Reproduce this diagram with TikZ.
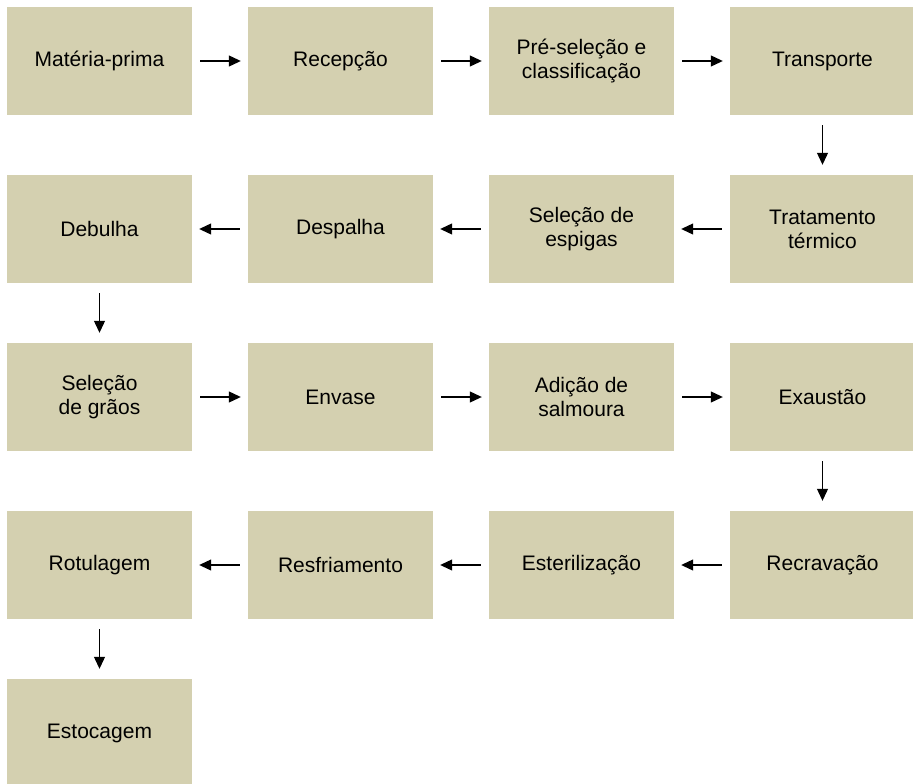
\documentclass[tikz,border=0pt]{standalone}
\usepackage{fontspec}
\setmainfont{Liberation Sans}
\usetikzlibrary{arrows.meta}
\definecolor{boxfill}{HTML}{D4D0B0}
\begin{document}
\begin{tikzpicture}[x=1pt,y=-1pt,
  stepbox/.style={fill=boxfill,draw=none,minimum width=185pt,minimum height=108pt,inner sep=0pt,align=center,font=\fontsize{21}{24}\selectfont},
  flow/.style={-{Triangle[length=12pt,width=11pt]},line width=1.1pt},
  hflow/.style={flow,shorten <=8pt,shorten >=7pt},
  vflow/.style={flow,shorten <=10pt,shorten >=10pt}]
\useasboundingbox (0,0) rectangle (913,784);
\clip (0,0) rectangle (913,784);
\node[stepbox] (a1) at (99.5,61) {Matéria-prima};
\node[stepbox] (a2) at (340.5,61) {Recepção};
\node[stepbox] (a3) at (581.5,61) {Pré-seleção e\\classificação};
\node[stepbox] (a4) at (822.5,61) {Transporte};
\node[stepbox] (b4) at (822.5,229) {Tratamento\\térmico};
\node[stepbox] (b3) at (581.5,229) {Seleção de\\espigas};
\node[stepbox] (b2) at (340.5,229) {Despalha};
\node[stepbox] (b1) at (99.5,229) {Debulha};
\node[stepbox] (c1) at (99.5,397) {Seleção\\de grãos};
\node[stepbox] (c2) at (340.5,397) {Envase};
\node[stepbox] (c3) at (581.5,397) {Adição de\\salmoura};
\node[stepbox] (c4) at (822.5,397) {Exaustão};
\node[stepbox] (d4) at (822.5,565) {Recravação};
\node[stepbox] (d3) at (581.5,565) {Esterilização};
\node[stepbox] (d2) at (340.5,565) {Resfriamento};
\node[stepbox] (d1) at (99.5,565) {Rotulagem};
\node[stepbox] (e1) at (99.5,733) {Estocagem};
\draw[hflow] (a1) -- (a2);
\draw[hflow] (a2) -- (a3);
\draw[hflow] (a3) -- (a4);
\draw[vflow] (a4) -- (b4);
\draw[hflow] (b4) -- (b3);
\draw[hflow] (b3) -- (b2);
\draw[hflow] (b2) -- (b1);
\draw[vflow] (b1) -- (c1);
\draw[hflow] (c1) -- (c2);
\draw[hflow] (c2) -- (c3);
\draw[hflow] (c3) -- (c4);
\draw[vflow] (c4) -- (d4);
\draw[hflow] (d4) -- (d3);
\draw[hflow] (d3) -- (d2);
\draw[hflow] (d2) -- (d1);
\draw[vflow] (d1) -- (e1);
\end{tikzpicture}
\end{document}
